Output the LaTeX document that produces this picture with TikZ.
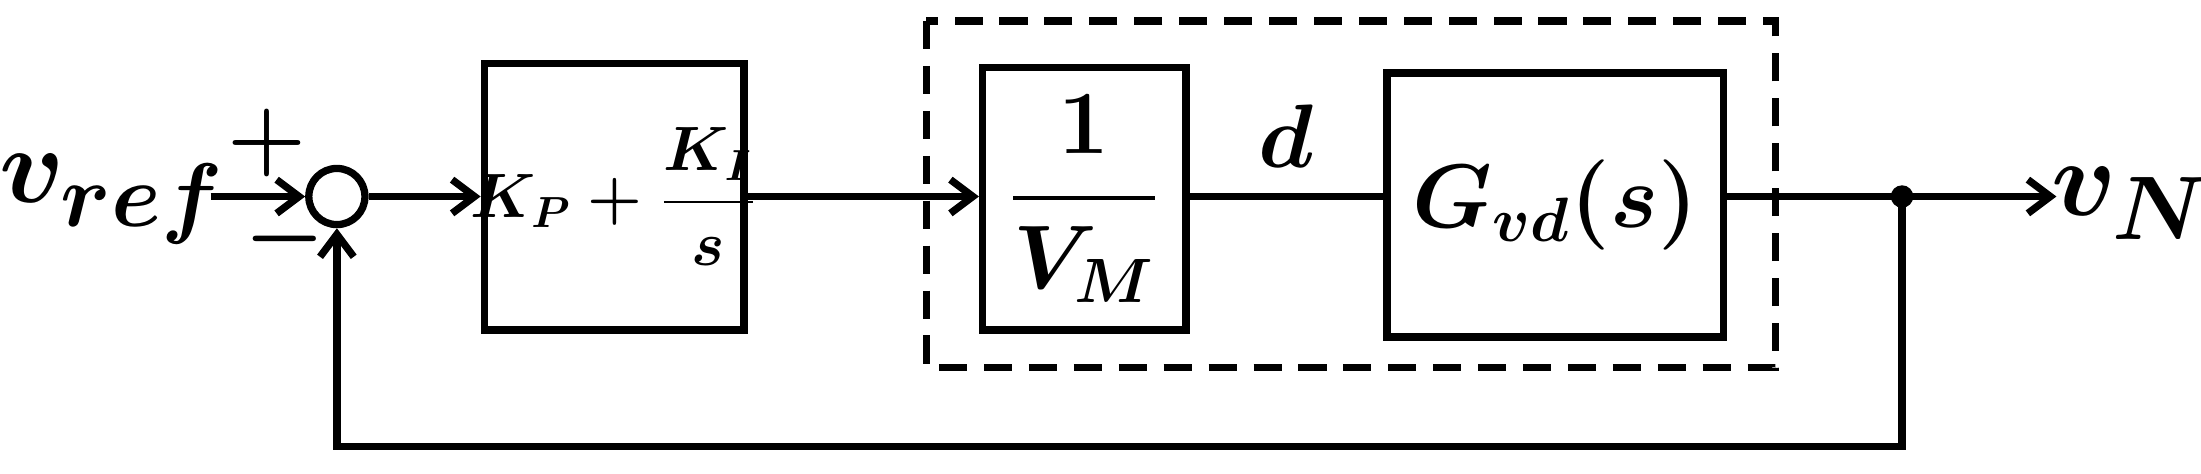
\documentclass[tikz,border=0pt]{standalone}
\usepackage{amsmath}
\usepackage{tikz}
\usetikzlibrary{arrows.meta}
\begin{document}
\boldmath
\begin{tikzpicture}[x=0.5pt,y=-0.5pt,line width=2.6pt,
  blk/.style={draw,line width=2.6pt,inner sep=0pt},
  txt/.style={scale=1.55},
  sig/.style={-{Straight Barb[length=8pt,width=12pt]}}]
\useasboundingbox (0,0) rectangle (1568,337);
%input
\node[txt] (vref) at (80,142) {\Huge $v_{ref}$};
%summing junction
\node[draw,circle,minimum size=40pt*0.5,line width=2.6pt,inner sep=0pt] (sum) at (240,140) {};
\node[txt] at (190,102) {\huge $\mathbf{+}$};
\node[txt] at (203,170) {\huge $\mathbf{-}$};
%PI block
\node[blk,minimum width=185*0.5pt,minimum height=190*0.5pt] (pi) at (437.5,140) {};
\node[txt] at (pi) {\Large $K_P+\dfrac{K_I}{s}$};
%dashed plant frame
\draw[dashed,dash pattern=on 10pt off 6pt] (660,15) rectangle (1265,262);
%modulator
\node[blk,minimum width=145*0.5pt,minimum height=187*0.5pt] (mod) at (772.5,141.5) {};
\node[txt] at (mod) {\huge $\dfrac{1}{V_M}$};
%converter
\node[blk,minimum width=240*0.5pt,minimum height=188*0.5pt] (gvd) at (1108,146) {};
\node[txt] at (gvd) {\huge $G_{vd}(s)$};
%output
\coordinate (tap) at (1355,140);
\node[txt] (vn) at (1518,145) {\Huge $v_N$};
\coordinate (bot) at (1355,318);
\coordinate (botl) at (240,318);
%connectors
\draw[sig] (150,140) -- (sum.west);
\draw[sig] (sum.east) -- (pi.west |- sum);
\draw[sig] (pi.east |- sum) -- (mod.west |- sum);
\draw (mod.east |- sum) -- node[txt,above=2pt] {\huge $d$} (gvd.west |- sum);
\draw[sig] (gvd.east |- sum) -- (1465,140) coordinate (out);
\fill (tap) circle (4pt);
\draw[sig] (tap) -- (bot) -- (botl) -- (sum.south);
\end{tikzpicture}
\end{document}
